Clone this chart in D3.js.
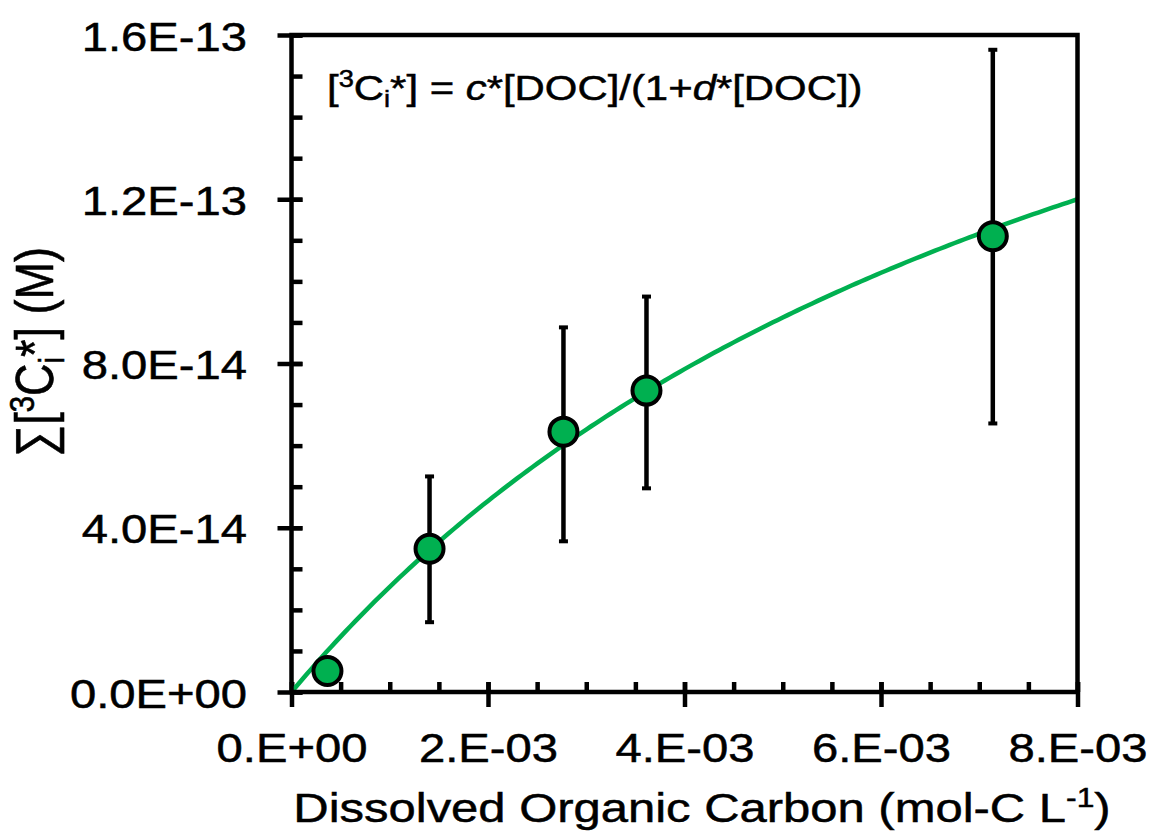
<!DOCTYPE html>
<html>
<head>
<meta charset="utf-8">
<script src="https://cdn.jsdelivr.net/npm/d3@7"></script>
<style>
  body { margin: 0; background: #fff; }
  text { font-family: "Liberation Sans", Arial, sans-serif; fill: #000; stroke: #000; stroke-width: 0.5px; }
</style>
</head>
<body>
<script>
var docConc = [0.366e-3, 1.405e-3, 2.768e-3, 3.613e-3, 7.138e-3];
var tripletConc = [0.51e-14, 3.49e-14, 6.34e-14, 7.34e-14, 11.10e-14];
var errTop = [0.60e-14, 5.25e-14, 8.88e-14, 9.63e-14, 15.64e-14];
var errBottom = [0.42e-14, 1.70e-14, 3.67e-14, 4.96e-14, 6.54e-14];

// fitted parameters of [3Ci*] = c*[DOC]/(1+d*[DOC])
var fitC = 2.85e-11;
var fitD = 112.5;

var xTicks = [0, 0.002, 0.004, 0.006, 0.008];
var xTickLabels = ["0.E+00", "2.E-03", "4.E-03", "6.E-03", "8.E-03"];
var yTicks = [0, 4e-14, 8e-14, 1.2e-13, 1.6e-13];
var yTickLabels = ["0.0E+00", "4.0E-14", "8.0E-14", "1.2E-13", "1.6E-13"];

var width = 1153, height = 835;
var plotL = 291.5, plotR = 1077.5, plotT = 35, plotB = 692;
var SX = 1.18;          // text in the original is a bit wider than Arial
var green = "#00b050";

var svg = d3.select("body").append("svg")
    .attr("width", width)
    .attr("height", height);

var x = d3.scaleLinear().domain([0, 0.008]).range([plotL, plotR]);
var y = d3.scaleLinear().domain([0, 1.6e-13]).range([plotB, plotT]);

// minor ticks (inside)
svg.append("g")
    .attr("transform", "translate(0," + plotB + ")")
    .call(d3.axisBottom(x).tickValues(d3.range(0, 0.00801, 0.0005)).tickSize(-10).tickFormat(""))
    .call(function(g) { g.select(".domain").remove(); });
svg.append("g")
    .attr("transform", "translate(" + plotL + ",0)")
    .call(d3.axisLeft(y).tickValues(d3.range(0, 1.601e-13, 1e-14)).tickSize(-11).tickFormat(""))
    .call(function(g) { g.select(".domain").remove(); });

// major ticks (crossing) + labels
var xAxis = svg.append("g")
    .attr("transform", "translate(0," + plotB + ")")
    .call(d3.axisBottom(x).tickValues(xTicks).tickSize(15).tickSizeOuter(0)
        .tickFormat(function(d, i) { return xTickLabels[i]; }));
xAxis.selectAll(".tick line").attr("y1", -10);
xAxis.selectAll(".tick text")
    .attr("y", 70).attr("dy", 0)
    .attr("transform", "scale(" + SX + ",1)");

var yAxis = svg.append("g")
    .attr("transform", "translate(" + plotL + ",0)")
    .call(d3.axisLeft(y).tickValues(yTicks).tickSize(14).tickSizeOuter(0)
        .tickFormat(function(d, i) { return yTickLabels[i]; }));
yAxis.selectAll(".tick line").attr("x1", 11);
yAxis.selectAll(".tick text")
    .attr("x", -44.5 / SX).attr("y", 15).attr("dy", 0)
    .attr("transform", "scale(" + SX + ",1)");

svg.selectAll(".tick line").attr("stroke", "#000").attr("stroke-width", 4.5);
svg.selectAll(".domain").remove();
svg.selectAll(".tick text").attr("font-size", 40).attr("font-family", "Liberation Sans, Arial, sans-serif");

// fit curve
var curveX = d3.range(0, 0.00800001, 0.00005);
var line = d3.line()
    .x(function(d) { return x(d); })
    .y(function(d) { return y(fitC * d / (1 + fitD * d)); });
svg.append("path")
    .datum(curveX)
    .attr("d", line)
    .attr("fill", "none")
    .attr("stroke", green)
    .attr("stroke-width", 4.5);

// frame
svg.append("rect")
    .attr("x", plotL).attr("y", plotT)
    .attr("width", plotR - plotL).attr("height", plotB - plotT)
    .attr("fill", "none")
    .attr("stroke", "#000")
    .attr("stroke-width", 4.5);

// error bars
var pts = docConc.map(function(d, i) {
    return { x: d, y: tripletConc[i], hi: errTop[i], lo: errBottom[i] };
});
var eb = svg.append("g").selectAll("g").data(pts).enter().append("g");
eb.append("line")
    .attr("x1", function(d) { return x(d.x); })
    .attr("x2", function(d) { return x(d.x); })
    .attr("y1", function(d) { return y(d.hi); })
    .attr("y2", function(d) { return y(d.lo); })
    .attr("stroke", "#000").attr("stroke-width", 4.5);
eb.selectAll(".cap").data(function(d) { return [[d.x, d.hi], [d.x, d.lo]]; })
    .enter().append("line")
    .attr("x1", function(d) { return x(d[0]) - 4.5; })
    .attr("x2", function(d) { return x(d[0]) + 4.5; })
    .attr("y1", function(d) { return y(d[1]); })
    .attr("y2", function(d) { return y(d[1]); })
    .attr("stroke", "#000").attr("stroke-width", 4);

// points
svg.append("g").selectAll("circle").data(pts).enter().append("circle")
    .attr("cx", function(d) { return x(d.x); })
    .attr("cy", function(d) { return y(d.y); })
    .attr("r", 14)
    .attr("fill", green)
    .attr("stroke", "#000")
    .attr("stroke-width", 4);

// rich text helper: parts with optional sup/sub/italic
function rich(t, parts, fs) {
    var shift = 0;
    parts.forEach(function(p) {
        var target = p.sup ? -0.36 * fs : p.sub ? 0.2 * fs : 0;
        var ts = t.append("tspan").text(p.t).attr("dy", target - shift);
        if (p.sup || p.sub) ts.attr("font-size", fs * 0.65);
        if (p.it) ts.attr("font-style", "italic");
        shift = target;
    });
}

// equation
var eqFs = 35.5;
var eq = svg.append("text")
    .attr("font-size", eqFs)
    .attr("transform", "translate(327,100) scale(" + SX + ",1)");
rich(eq, [{t: "["}, {t: "3", sup: true}, {t: "C"}, {t: "i", sub: true}, {t: "*] = "},
    {t: "c", it: true}, {t: "*[DOC]/(1+"}, {t: "d", it: true}, {t: "*[DOC])"}], eqFs);

// x title
var xt = svg.append("text")
    .attr("font-size", 41.5)
    .attr("text-anchor", "middle")
    .attr("transform", "translate(702,822) scale(" + SX + ",1)");
rich(xt, [{t: "Dissolved Organic Carbon (mol-C L"}, {t: "-1", sup: true}, {t: ")"}], 41.5);

// y title
var yt = svg.append("text")
    .attr("font-size", 45)
    .attr("text-anchor", "middle")
    .attr("transform", "translate(53,352) scale(" + SX + ",1) rotate(-90)");
rich(yt, [{t: "\u2211["}, {t: "3", sup: true}, {t: "C"}, {t: "i", sub: true}, {t: "*] (M)"}], 45);
</script>
</body>
</html>
